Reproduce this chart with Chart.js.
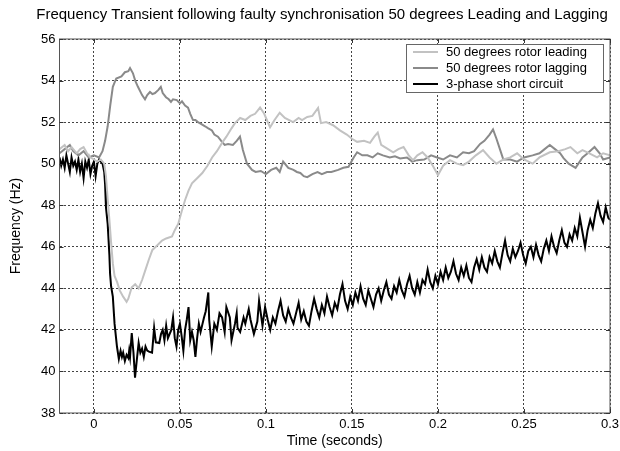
<!DOCTYPE html>
<html><head><meta charset="utf-8">
<script src="https://cdn.jsdelivr.net/npm/chart.js@4/dist/chart.umd.min.js"></script>
<style>html,body{margin:0;padding:0;background:#fff}#wrap{width:620px;height:451px;position:relative}</style>
</head><body><div id="wrap"><canvas id="c" width="620" height="451"></canvas></div>
<script>
const titleText = "Frequency Transient following faulty synchronisation 50 degrees Leading and Lagging";
const xLabel = "Time (seconds)";
const yLabel = "Frequency (Hz)";
const xTicks = [0, 0.05, 0.1, 0.15, 0.2, 0.25, 0.3];
const yTicks = [38, 40, 42, 44, 46, 48, 50, 52, 54, 56];
const seriesNames = ["50 degrees rotor leading", "50 degrees rotor lagging", "3-phase short circuit"];

const leadT = [-0.020,-0.017,-0.015,-0.013,-0.010,-0.008,-0.006,-0.004,-0.002,0.000,0.002,0.004,0.006,0.007,0.008,0.009,0.010,0.011,0.012,0.0135,0.015,0.017,0.019,0.020,0.022,0.024,0.026,0.028,0.030,0.032,0.034,0.036,0.0396,0.042,0.0454,0.047,0.049,0.051,0.053,0.055,0.057,0.060,0.063,0.066,0.0687,0.0715,0.0745,0.077,0.080,0.082,0.085,0.088,0.091,0.0937,0.0966,0.099,0.1024,0.105,0.108,0.111,0.1158,0.119,0.121,0.124,0.127,0.1303,0.132,0.135,0.139,0.143,0.147,0.150,0.153,0.157,0.1605,0.163,0.165,0.167,0.171,0.174,0.177,0.180,0.183,0.1855,0.188,0.191,0.194,0.197,0.200,0.203,0.207,0.211,0.2146,0.218,0.222,0.2262,0.230,0.234,0.238,0.242,0.246,0.250,0.255,0.259,0.265,0.270,0.274,0.277,0.281,0.284,0.288,0.2925,0.296,0.300];
const leadF = [50.7,50.9,50.6,50.8,50.5,50.7,50.8,50.5,50.3,50.2,50.1,50.2,50.0,49.4,48.3,47.3,46.2,45.2,44.6,44.3,43.9,43.6,43.35,43.5,44.05,44.2,44.0,44.4,44.9,45.4,45.85,46.0,46.3,46.4,46.5,46.8,47.1,47.7,48.25,48.7,49.05,49.3,49.55,49.9,50.3,50.6,51.0,51.3,51.7,51.95,52.2,52.1,52.3,52.4,52.7,52.4,51.75,52.1,52.45,52.2,52.0,52.2,52.1,52.25,52.3,52.68,51.95,52.0,51.85,51.6,51.4,51.2,51.05,51.1,51.0,51.3,51.5,50.9,50.7,50.55,50.7,50.8,50.4,50.17,50.4,50.55,50.3,49.9,49.45,49.9,50.17,50.0,49.93,50.1,50.4,50.65,50.3,50.0,50.2,50.3,50.5,50.2,50.0,50.3,50.55,50.6,50.7,50.8,50.5,50.65,50.5,50.3,50.5,50.4];

const lagT = [-0.020,-0.017,-0.014,-0.012,-0.009,-0.006,-0.003,0.000,0.003,0.005,0.0065,0.008,0.0095,0.011,0.013,0.016,0.018,0.020,0.021,0.0227,0.024,0.0256,0.028,0.0297,0.031,0.0326,0.034,0.0355,0.0375,0.0389,0.040,0.0419,0.0435,0.0448,0.046,0.0482,0.050,0.0512,0.053,0.0547,0.056,0.0576,0.059,0.0605,0.0625,0.0646,0.0665,0.0686,0.070,0.0721,0.074,0.076,0.078,0.0808,0.083,0.0849,0.0866,0.089,0.0919,0.094,0.097,0.100,0.103,0.106,0.108,0.110,0.113,0.116,0.118,0.120,0.122,0.124,0.127,0.130,0.1325,0.1355,0.138,0.142,0.145,0.148,0.149,0.151,0.153,0.156,0.159,0.162,0.165,0.168,0.172,0.175,0.178,0.182,0.185,0.188,0.192,0.196,0.1995,0.203,0.207,0.211,0.2146,0.218,0.221,0.2245,0.227,0.230,0.232,0.234,0.236,0.238,0.242,0.246,0.250,0.255,0.259,0.262,0.265,0.268,0.271,0.273,0.276,0.280,0.284,0.287,0.291,0.294,0.296,0.300];
const lagF = [50.5,50.7,50.9,50.6,50.4,50.6,50.3,50.4,50.3,50.6,51.1,51.8,52.8,53.7,54.1,54.2,54.4,54.45,54.6,54.35,54.0,53.7,53.3,53.1,53.3,53.45,53.35,53.4,53.55,53.7,53.4,53.2,53.1,52.97,53.1,53.06,52.9,53.0,52.8,52.7,52.4,52.1,52.1,52.0,51.9,51.8,51.7,51.6,51.4,51.3,51.1,50.9,50.95,50.9,51.1,51.3,50.66,50.0,49.7,49.6,49.65,49.5,49.7,49.8,49.6,50.1,49.8,49.7,49.6,49.55,49.4,49.35,49.5,49.6,49.5,49.6,49.6,49.7,49.8,49.85,50.0,50.3,50.55,50.4,50.4,50.3,50.5,50.4,50.3,50.35,50.25,50.3,50.1,50.17,50.2,50.4,50.3,50.2,50.4,50.3,50.55,50.5,50.6,50.95,51.1,51.4,51.65,51.2,50.7,50.2,50.2,50.1,50.3,50.4,50.5,50.7,50.9,50.7,50.5,50.27,50.0,49.8,50.3,50.5,50.8,50.5,50.2,50.3];

const scT = [-0.020,-0.019,-0.018,-0.017,-0.016,-0.015,-0.014,-0.013,-0.012,-0.011,-0.010,-0.009,-0.008,-0.007,-0.006,-0.005,-0.004,-0.003,-0.002,-0.001,0.000,0.001,0.002,0.003,0.004,0.005,0.006,0.0065,0.007,0.008,0.009,0.0094,0.010,0.011,0.0115,0.012,0.0134,0.0145,0.0155,0.0163,0.017,0.018,0.019,0.020,0.0205,0.021,0.022,0.023,0.0239,0.025,0.026,0.027,0.028,0.029,0.030,0.031,0.032,0.0338,0.035,0.036,0.038,0.039,0.040,0.041,0.042,0.043,0.045,0.046,0.047,0.048,0.049,0.050,0.051,0.052,0.053,0.054,0.055,0.056,0.057,0.058,0.059,0.060,0.061,0.062,0.064,0.065,0.0665,0.067,0.0685,0.070,0.0715,0.073,0.0745,0.076,0.077,0.079,0.080,0.082,0.083,0.0835,0.085,0.087,0.088,0.090,0.091,0.093,0.095,0.096,
0.098,0.0995,0.101,0.1025,0.104,0.1055,0.107,0.1085,0.110,0.1115,0.113,0.1145,0.116,0.1175,0.119,0.1205,0.122,0.1235,0.125,0.1265,0.128,0.1295,0.131,0.1325,0.134,0.1355,0.137,0.1385,0.140,0.1415,0.143,0.1445,0.146,0.1475,0.149,0.1505,0.152,0.1535,0.155,0.1565,0.158,0.1595,0.161,0.1625,0.164,0.1655,0.167,0.1685,0.170,0.1715,0.173,0.1745,0.176,0.1775,0.179,0.1805,0.182,0.1835,0.185,0.1865,0.188,0.1895,0.191,0.1925,0.194,0.1955,0.197,0.1985,0.200,0.2015,0.203,0.2045,0.206,0.2075,0.209,0.2105,0.212,0.2135,0.215,0.2165,0.218,0.2195,0.221,0.2225,0.224,0.2255,0.227,0.2285,0.230,0.2315,0.233,0.2345,0.236,0.2375,0.239,0.2405,0.242,0.2435,0.245,0.2465,0.248,0.2495,0.251,0.2525,0.254,0.2555,0.257,0.2585,0.260,0.2615,0.263,0.2645,0.266,0.2675,0.269,0.2705,0.272,0.2735,0.275,0.2765,0.278,0.2795,0.281,0.2825,0.284,0.2855,0.287,0.2885,0.290,0.2915,0.293,0.2945,0.296,0.2975,0.299,0.300];
const scF = [50.3,49.9,50.2,49.8,50.4,50.0,49.6,50.3,49.9,50.1,49.7,50.2,49.6,50.0,49.3,50.1,49.8,50.2,49.5,49.9,50.1,49.4,50.0,50.2,50.1,50.0,49.6,49.0,47.9,47.1,45.6,44.7,44.1,43.6,42.95,42.3,41.2,40.6,41.0,40.7,40.9,40.5,40.8,40.65,41.0,40.7,41.85,40.9,39.7,40.6,41.37,40.9,41.1,40.7,41.2,41.0,40.95,40.9,42.1,41.4,41.37,41.8,42.0,41.5,42.2,41.6,42.0,42.6,41.6,41.2,42.0,42.3,41.7,41.0,42.0,42.5,43.1,41.5,41.9,41.5,40.7,41.6,42.3,41.9,42.6,42.9,43.8,42.5,41.2,42.3,42.0,42.8,42.6,41.9,43.1,42.6,41.5,42.3,42.8,42.1,41.9,42.6,42.3,43.0,42.5,41.8,42.4,43.4,
42.2,43.1,42.5,42.0,42.6,42.3,42.9,43.4,42.7,42.4,43.0,42.6,42.3,42.8,43.3,42.5,42.9,42.4,42.2,42.9,43.5,43.0,42.6,43.2,42.8,43.6,43.1,42.7,43.3,43.0,43.7,44.2,43.4,43.0,43.6,43.2,43.8,43.4,44.1,43.5,43.2,43.9,43.5,43.1,43.7,44.0,43.4,43.9,44.3,43.7,43.5,44.1,43.8,44.4,43.9,43.6,44.2,44.6,44.0,43.7,44.3,43.8,44.4,44.2,44.9,44.3,44.0,44.6,44.2,44.8,44.4,45.0,44.5,44.8,45.3,44.7,44.4,45.0,44.6,45.1,44.5,44.3,45.0,45.4,44.9,45.5,45.0,44.8,45.5,45.2,45.8,45.3,45.0,45.7,46.3,45.6,45.3,45.9,45.5,45.8,46.2,45.6,45.2,45.8,46.0,45.5,46.1,45.6,45.3,45.9,46.3,45.8,46.5,46.0,45.7,46.3,46.8,46.2,46.0,46.6,46.3,46.9,46.5,47.4,46.7,46.0,46.8,47.3,46.9,47.6,48.1,47.5,47.2,47.9,47.4,47.3];

function pts(t, f) { return t.map((x, i) => ({ x: x, y: f[i] })); }

const FONT = "'Liberation Sans', Arial, Helvetica, sans-serif";

const frame = {
  id: 'frame',
  afterDatasetsDraw(chart) {
    const { ctx, chartArea: a, scales } = chart;
    ctx.save();
    ctx.strokeStyle = '#555';
    ctx.lineWidth = 1;
    ctx.strokeRect(a.left, a.top, a.right - a.left, a.bottom - a.top);
    ctx.strokeStyle = '#333';
    const tl = 4;
    ctx.beginPath();
    xTicks.forEach(v => {
      const px = Math.round(scales.x.getPixelForValue(v)) + 0.5;
      ctx.moveTo(px, a.bottom); ctx.lineTo(px, a.bottom - tl);
      ctx.moveTo(px, a.top); ctx.lineTo(px, a.top + tl);
    });
    yTicks.forEach(v => {
      const py = Math.round(scales.y.getPixelForValue(v)) + 0.5;
      ctx.moveTo(a.left, py); ctx.lineTo(a.left + tl, py);
      ctx.moveTo(a.right, py); ctx.lineTo(a.right - tl, py);
    });
    ctx.stroke();
    ctx.restore();
  },
  afterDraw(chart) {
    const { ctx } = chart;
    ctx.save();
    ctx.fillStyle = '#000';
    ctx.font = "15px " + FONT;
    ctx.textAlign = 'center';
    ctx.textBaseline = 'middle';
    ctx.fillText(titleText, 322, 15);
    const bx = 406.5, by = 44.5, bw = 197, bh = 48;
    ctx.fillStyle = '#fff';
    ctx.fillRect(bx, by, bw, bh);
    ctx.strokeStyle = '#666';
    ctx.lineWidth = 1;
    ctx.strokeRect(bx, by, bw, bh);
    ctx.font = "13px " + FONT;
    ctx.textAlign = 'left';
    ctx.textBaseline = 'middle';
    const rows = [52, 68, 84];
    chart.data.datasets.forEach((ds, i) => {
      ctx.strokeStyle = ds.borderColor;
      ctx.lineWidth = 2;
      ctx.beginPath();
      ctx.moveTo(413, rows[i]); ctx.lineTo(438, rows[i]);
      ctx.stroke();
      ctx.fillStyle = '#000';
      ctx.fillText(ds.label, 446, rows[i]);
    });
    ctx.restore();
  }
};

new Chart(document.getElementById('c'), {
  type: 'line',
  data: {
    datasets: [
      { label: seriesNames[0], data: pts(leadT, leadF), borderColor: '#c2c2c2', borderWidth: 2, pointRadius: 0, tension: 0 },
      { label: seriesNames[1], data: pts(lagT, lagF), borderColor: '#8a8a8a', borderWidth: 2, pointRadius: 0, tension: 0 },
      { label: seriesNames[2], data: pts(scT, scF), borderColor: '#000000', borderWidth: 2, pointRadius: 0, tension: 0 }
    ]
  },
  options: {
    responsive: false,
    animation: false,
    devicePixelRatio: 1,
    layout: { padding: { top: 39, right: 10, bottom: 0, left: 0 } },
    plugins: { legend: { display: false }, title: { display: false }, tooltip: { enabled: false } },
    scales: {
      x: {
        type: 'linear', min: -0.02, max: 0.3,
        afterBuildTicks(s) { s.ticks = xTicks.map(v => ({ value: v })); },
        afterFit(s) { s.height = 38; s.paddingLeft = 0; s.paddingRight = 0; },
        ticks: { color: '#000', font: { family: FONT, size: 13 }, padding: 4, maxRotation: 0, callback: v => String(v) },
        grid: { color: '#444', lineWidth: 1, drawTicks: false },
        border: { display: false, dash: [2, 2] },
        title: { display: true, text: xLabel, color: '#000', font: { family: FONT, size: 14 }, padding: { top: 0, bottom: 1 } }
      },
      y: {
        type: 'linear', min: 38, max: 56,
        afterBuildTicks(s) { s.ticks = yTicks.map(v => ({ value: v })); },
        afterFit(s) { s.width = 59.5; s.paddingTop = 0; s.paddingBottom = 0; },
        ticks: { color: '#000', font: { family: FONT, size: 13 }, padding: 4 },
        grid: { color: '#444', lineWidth: 1, drawTicks: false },
        border: { display: false, dash: [2, 2] },
        title: { display: true, text: yLabel, color: '#000', font: { family: FONT, size: 14 }, padding: { top: 8, bottom: 0 } }
      }
    }
  },
  plugins: [frame]
});
</script>
</body></html>
